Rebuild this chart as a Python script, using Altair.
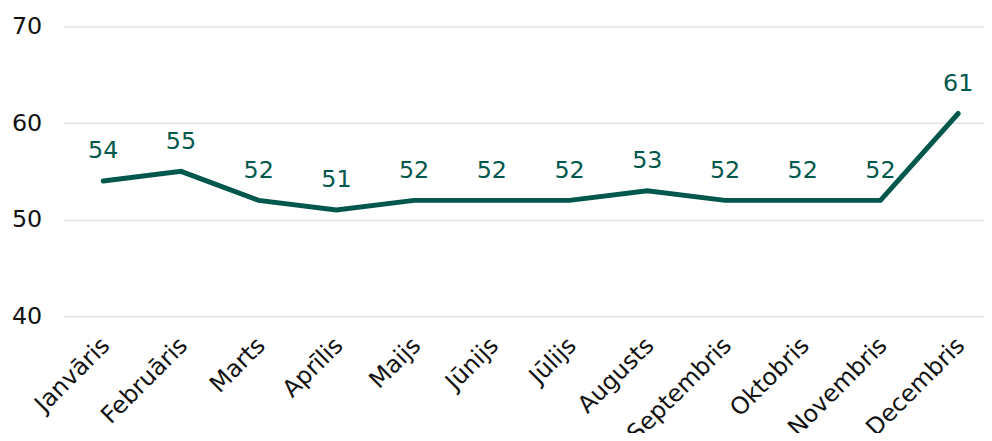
import altair as alt
import pandas as pd

months = ["Janvāris", "Februāris", "Marts", "Aprīlis", "Maijs", "Jūnijs",
          "Jūlijs", "Augusts", "Septembris", "Oktobris", "Novembris", "Decembris"]
values = [54, 55, 52, 51, 52, 52, 52, 53, 52, 52, 52, 61]

df = pd.DataFrame({"idx": list(range(len(months))), "month": months, "value": values})

label_expr = "[" + ",".join("'" + m + "'" for m in months) + "][datum.value]"

FONT = "DejaVu Sans"
COLOR = "#00574B"

x = alt.X("idx:Q",
          scale=alt.Scale(domain=[-0.5105, 11.332], nice=False, zero=False),
          axis=alt.Axis(values=list(range(12)), labelExpr=label_expr, labelAngle=-45,
                        labelFontSize=24, labelFont=FONT, labelColor="#111111",
                        labelPadding=17, labelOffset=-6, ticks=False, domain=False, grid=False,
                        title=None, labelOverlap=False, labelBound=False, labelFlush=False))
y = alt.Y("value:Q",
          scale=alt.Scale(domain=[40, 70], nice=False, zero=False),
          axis=alt.Axis(values=[40, 50, 60, 70], labelFontSize=24, labelFont=FONT,
                        labelColor="#111111", labelPadding=22, ticks=False, domain=False,
                        gridColor="#DFE4E3", gridWidth=1.5, title=None))

base = alt.Chart(df).encode(x=x, y=y)

line = base.mark_line(color=COLOR, strokeWidth=5, strokeCap="round")
labels = base.mark_text(font=FONT, fontSize=24, color=COLOR, baseline="alphabetic",
                        dy=-23).encode(text="value:Q")

chart = (line + labels).properties(
    width=928, height=292,
    autosize=alt.AutoSizeParams(type="none"),
    padding={"left": 56, "top": 17, "right": 0, "bottom": 116},
).configure_view(stroke=None)

chart.save("out.html", embed_options={"renderer": "svg", "actions": False})
